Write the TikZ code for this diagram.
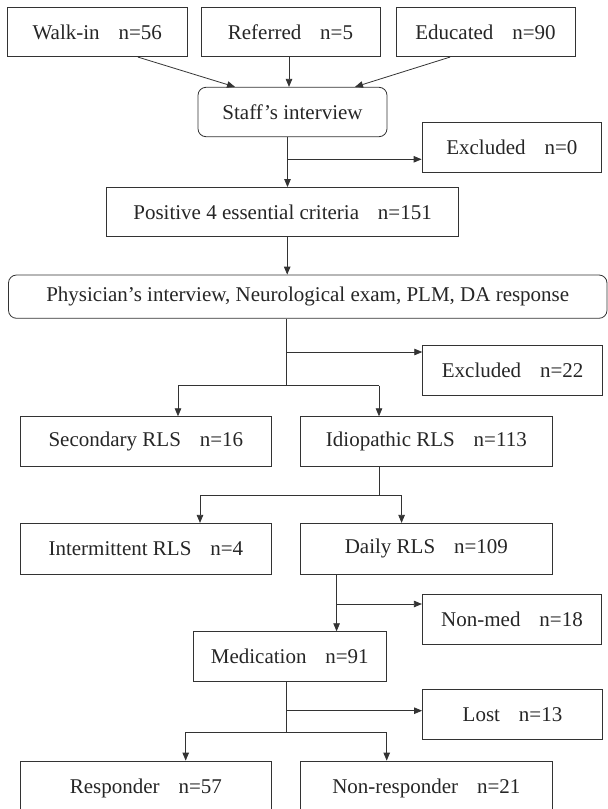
\documentclass[tikz,border=0pt]{standalone}
\usepackage{fontspec}
\setmainfont{Liberation Serif}
\usetikzlibrary{arrows.meta,calc}
\definecolor{lncol}{gray}{0.2}
\definecolor{txcol}{gray}{0.15}
\newcommand\gapn{\hspace{0.9em}}
\begin{document}
\begin{tikzpicture}[x=1pt,y=-1pt,
  box/.style={draw=lncol, line width=0.8pt, text=txcol, inner sep=0pt,
    font=\fontsize{21}{25}\selectfont},
  rbox/.style={box, rounded corners=8pt},
  conn/.style={draw=lncol, line width=0.8pt},
  arr/.style={conn, -{Triangle[length=8pt,width=6.5pt]}}]
\clip (0,0) rectangle (608,809);
% top row
\node[box, minimum width=180.5pt, minimum height=49.4pt] (walk) at (97.25,32) {Walk-in\gapn n=56};
\node[box, minimum width=179pt, minimum height=49.4pt] (ref) at (290.5,32) {Referred\gapn n=5};
\node[box, minimum width=179pt, minimum height=49.4pt] (edu) at (485.5,32) {Educated\gapn n=90};
\node[rbox, minimum width=189pt, minimum height=49.4pt] (staff) at (292.5,112) {Staff’s interview};
\node[box, minimum width=179.7pt, minimum height=49.6pt] (exc0) at (511.85,147.5) {Excluded\gapn n=0};
\node[box, minimum width=351.8pt, minimum height=49.2pt] (pos) at (282.6,212.1) {Positive 4 essential criteria\gapn n=151};
\node[rbox, minimum width=598.5pt, minimum height=43.3pt] (phys) at (307.75,296.65) {Physician’s interview, Neurological exam, PLM, DA response};
\node[box, minimum width=179.9pt, minimum height=50pt] (exc22) at (512.65,370) {Excluded\gapn n=22};
\node[box, minimum width=251.7pt, minimum height=50pt] (sec) at (145.85,441.7) {Secondary RLS\gapn n=16};
\node[box, minimum width=251.3pt, minimum height=50pt] (idio) at (426.35,441.7) {Idiopathic RLS\gapn n=113};
\node[box, minimum width=251.7pt, minimum height=50.7pt] (inter) at (145.85,548.65) {Intermittent RLS\gapn n=4};
\node[box, minimum width=251.3pt, minimum height=50.7pt] (daily) at (426.35,548.65) {Daily RLS\gapn n=109};
\node[box, minimum width=179.4pt, minimum height=49.6pt] (nonmed) at (512,619.5) {Non-med\gapn n=18};
\node[box, minimum width=193.8pt, minimum height=50pt] (med) at (289.8,656.7) {Medication\gapn n=91};
\node[box, minimum width=180pt, minimum height=50pt] (lost) at (512.5,714.3) {Lost\gapn n=13};
\node[box, minimum width=251.7pt, minimum height=54pt] (resp) at (145.85,788) {Responder\gapn n=57};
\node[box, minimum width=251.3pt, minimum height=54pt] (nonresp) at (426.35,788) {Non-responder\gapn n=21};
% connectors top
\draw[arr] ($(walk.south)+(40.75,0)$) -- ($(staff.north)+(-57.5,0)$);
\draw[arr] ($(ref.south)+(-1.5,0)$) -- ($(staff.north)+(-3.5,0)$);
\draw[arr] ($(edu.south)+(-35.5,0)$) -- ($(staff.north)+(62.5,0)$);
% staff -> pos, excluded
\coordinate (t1) at (287.5,159.3);
\draw[arr] (staff.south -| t1) -- (pos.north -| t1);
\draw[arr] (t1) -- (t1 -| exc0.west);
% pos -> phys
\coordinate (t2) at (287.2,0);
\draw[arr] (pos.south -| t2) -- (phys.north -| t2);
% phys -> excluded, split
\coordinate (b3) at (286,352);
\coordinate (s3) at (286,385.7);
\coordinate (s3l) at (178,385.7);
\coordinate (s3r) at (379,385.7);
\draw[conn] (phys.south -| s3) -- (s3);
\draw[arr] (b3) -- (b3 -| exc22.west);
\draw[conn] (s3l) -- (s3r);
\draw[arr] (s3l) -- (s3l |- sec.north);
\draw[arr] (s3r) -- (s3r |- idio.north);
% idio -> inter, daily
\coordinate (s4) at (379.5,495);
\coordinate (s4l) at (200,495);
\coordinate (s4r) at (401.6,495);
\draw[conn] (idio.south -| s4) -- (s4);
\draw[conn] (s4l) -- (s4r);
\draw[arr] (s4l) -- (s4l |- inter.north);
\draw[arr] (s4r) -- (s4r |- daily.north);
% daily -> med, nonmed
\coordinate (b5) at (336.6,604);
\draw[arr] (daily.south -| b5) -- (med.north -| b5);
\draw[arr] (b5) -- (b5 -| nonmed.west);
% med -> lost, split
\coordinate (b6) at (286.2,710.7);
\coordinate (s6) at (286.2,732.3);
\coordinate (s6l) at (185.7,732.3);
\coordinate (s6r) at (386.7,732.3);
\draw[conn] (med.south -| s6) -- (s6);
\draw[arr] (b6) -- (b6 -| lost.west);
\draw[conn] (s6l) -- (s6r);
\draw[arr] (s6l) -- (s6l |- resp.north);
\draw[arr] (s6r) -- (s6r |- nonresp.north);
\end{tikzpicture}
\end{document}
